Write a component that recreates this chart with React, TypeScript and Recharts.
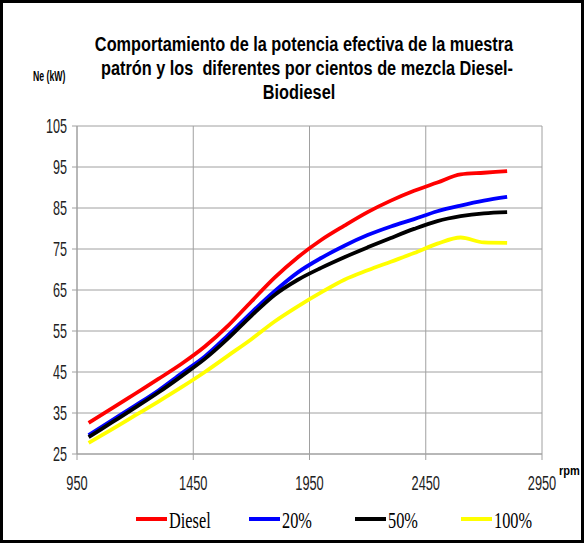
import { CartesianGrid, Legend, Line, LineChart, XAxis, YAxis } from 'recharts';

// rpm sample points and effective power Ne (kW)
const rpm = [1000, 1100, 1200, 1300, 1400, 1500, 1600, 1700, 1800, 1900, 2000, 2100, 2200, 2300, 2400, 2500, 2600, 2700, 2800];
const diesel = [32.6, 36.1, 39.7, 43.3, 47.0, 51.2, 56.3, 62.2, 68.0, 73.0, 77.2, 80.7, 84.0, 86.8, 89.2, 91.2, 93.2, 93.6, 94.0];
const mix20 = [29.6, 33.2, 36.8, 40.5, 44.7, 48.8, 54.0, 59.5, 64.7, 69.3, 72.8, 75.8, 78.4, 80.5, 82.3, 84.2, 85.6, 86.8, 87.7];
const mix50 = [29.1, 32.7, 36.3, 40.0, 44.0, 48.2, 53.2, 58.7, 63.8, 67.5, 70.4, 73.0, 75.4, 77.7, 79.9, 81.8, 83.0, 83.7, 84.0];
const mix100 = [27.7, 31.0, 34.4, 37.8, 41.3, 45.0, 49.0, 53.0, 57.3, 61.0, 64.4, 67.5, 69.8, 71.9, 74.0, 76.3, 77.8, 76.6, 76.5];

const xTicks = [950, 1450, 1950, 2450, 2950];
const yTicks = [25, 35, 45, 55, 65, 75, 85, 95, 105];

const series = [
  { key: 'diesel', label: 'Diesel', color: '#ff0000' },
  { key: 'mix20', label: '20%', color: '#0000ff' },
  { key: 'mix50', label: '50%', color: '#000000' },
  { key: 'mix100', label: '100%', color: '#ffff00' },
];

const data = rpm.map((r, i) => ({
  rpm: r,
  diesel: diesel[i],
  mix20: mix20[i],
  mix50: mix50[i],
  mix100: mix100[i],
}));

const sans = 'Liberation Sans, Arial, sans-serif';
const serif = 'Liberation Serif, Times New Roman, serif';

// the reference uses narrow fonts, so squeeze text horizontally
function Narrow(props: any) {
  const { x, y, sx, anchor = 'start', size, family = sans, weight = 'normal', fill = '#000', children } = props;
  return (
    <text transform={`translate(${x} ${y}) scale(${sx} 1)`} textAnchor={anchor} fontSize={size}
      fontFamily={family} fontWeight={weight} fill={fill} style={{ whiteSpace: 'pre' }}>
      {children}
    </text>
  );
}

function YTick(props: any) {
  const { x, y, payload } = props;
  return <Narrow x={x} y={y + 7} sx={0.63} anchor="end" size={20} fill="#222">{String(payload.value)}</Narrow>;
}

function XTick(props: any) {
  const { x, y, payload } = props;
  return <Narrow x={x} y={y + 28} sx={0.64} anchor="middle" size={20} fill="#222">{String(payload.value)}</Narrow>;
}

const legendX = [136, 249, 355, 461];

function LegendBox() {
  return (
    <svg width={584} height={30}>
      {series.map((s, i) => (
        <g key={s.key}>
          <line x1={legendX[i]} x2={legendX[i] + 31} y1={13} y2={13} stroke={s.color} strokeWidth={4} />
          <Narrow x={legendX[i] + 33} y={22} sx={0.68} size={24} family={serif}>{s.label}</Narrow>
        </g>
      ))}
    </svg>
  );
}

export default function App() {
  return (
    <div style={{ position: 'absolute', left: 0, top: 0, width: 584, height: 546, background: '#fff' }}>
      <LineChart width={584} height={546} data={data} margin={{ top: 126, right: 42, left: 0, bottom: 10 }}>
        <CartesianGrid stroke="#a0a0a0" />
        <XAxis dataKey="rpm" type="number" domain={[950, 2950]} ticks={xTicks} height={52}
          stroke="#a0a0a0" tickSize={6} tick={<XTick />} />
        <YAxis domain={[25, 105]} ticks={yTicks} width={77} stroke="#a0a0a0" tickSize={5}
          tickMargin={5} tick={<YTick />} />
        <Legend verticalAlign="bottom" content={() => <LegendBox />}
          wrapperStyle={{ left: 0, width: 584, height: 30, bottom: 10 }} />
        {series.map((s) => (
          <Line key={s.key} type="monotone" dataKey={s.key} name={s.label} stroke={s.color}
            strokeWidth={3.8} dot={false} isAnimationActive={false} />
        ))}
      </LineChart>
      <svg width={584} height={546} style={{ position: 'absolute', left: 0, top: 0, pointerEvents: 'none' }}>
        <Narrow x={304} y={51} sx={0.815} anchor="middle" size={20} weight="bold">
          Comportamiento de la potencia efectiva de la muestra
        </Narrow>
        <Narrow x={307} y={75} sx={0.815} anchor="middle" size={20} weight="bold">
          {'patrón y los  diferentes por cientos de mezcla Diesel-'}
        </Narrow>
        <Narrow x={299} y={99} sx={0.815} anchor="middle" size={20} weight="bold">
          Biodiesel
        </Narrow>
        <Narrow x={33} y={81} sx={0.58} size={15} weight="bold">Ne (kW)</Narrow>
        <Narrow x={559} y={475} sx={0.85} size={13} weight="bold">rpm</Narrow>
      </svg>
      <div style={{ position: 'absolute', left: 0, top: 0, width: 584, height: 543, border: '3px solid #000',
        boxSizing: 'border-box', pointerEvents: 'none' }} />
    </div>
  );
}
